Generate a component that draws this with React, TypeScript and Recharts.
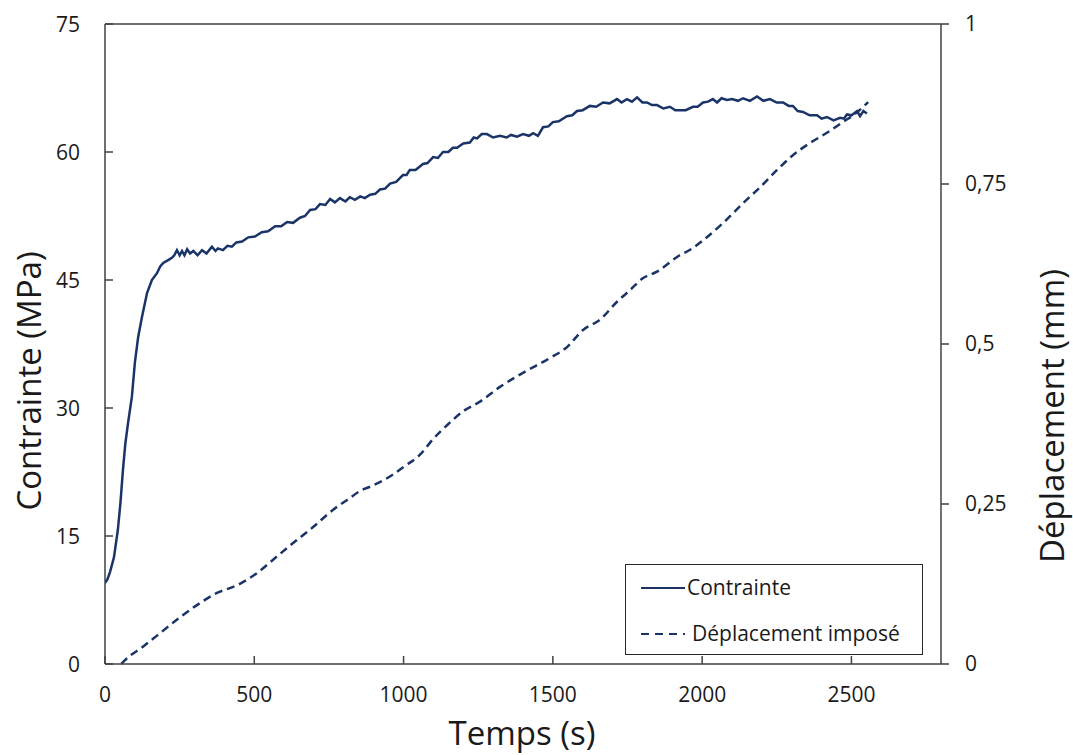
import { Label, Legend, Line, LineChart, ReferenceLine, XAxis, YAxis } from "recharts";

// Contrainte (MPa) vs temps (s)
const stressTime = [
  0, 8, 17, 30, 43, 52, 60, 68, 77, 90, 100, 111, 124, 141, 157, 174, 185, 195, 210, 224, 232, 241, 250, 258, 266,
  275, 285, 296, 310, 325, 340, 358, 370, 378, 395, 410, 425, 440, 459, 480, 502, 525, 546, 570, 590, 610, 630, 653,
  670, 687, 705, 720, 738, 754, 770, 787, 805, 820, 837, 855, 870, 888, 905, 921, 938, 955, 975, 998, 1010, 1021, 1040,
  1065, 1080, 1099, 1115, 1132, 1150, 1165, 1179, 1200, 1222, 1235, 1246, 1262, 1279, 1300, 1323, 1345, 1360, 1380,
  1400, 1420, 1434, 1450, 1467, 1485, 1500, 1520, 1547, 1565, 1581, 1600, 1624, 1645, 1668, 1690, 1715, 1730, 1748,
  1765, 1782, 1800, 1815, 1832, 1849, 1870, 1892, 1910, 1926, 1945, 1969, 1985, 2003, 2020, 2036, 2050, 2065, 2083,
  2100, 2120, 2137, 2160, 2184, 2205, 2227, 2250, 2271, 2290, 2304, 2320, 2338, 2360, 2385, 2400, 2418, 2440, 2462,
  2475, 2485, 2500, 2519, 2529, 2540, 2552,
];
const stressValues = [
  9.5, 9.9, 10.8, 12.5, 15.7, 19.0, 22.7, 25.8, 28.2, 31.3, 35.3, 38.3, 40.7, 43.5, 45.0, 45.8, 46.6, 47.0, 47.3, 47.6,
  47.9, 48.5, 47.9, 48.4, 47.9, 48.6, 48.1, 48.4, 47.9, 48.5, 48.1, 48.9, 48.4, 48.7, 48.5, 49.0, 48.9, 49.4, 49.5,
  50.0, 50.1, 50.6, 50.7, 51.3, 51.3, 51.8, 51.7, 52.3, 52.5, 53.2, 53.3, 53.9, 53.8, 54.5, 54.1, 54.6, 54.2, 54.7,
  54.4, 54.8, 54.6, 55.0, 55.1, 55.6, 55.7, 56.3, 56.5, 57.3, 57.3, 57.9, 57.9, 58.6, 58.7, 59.4, 59.3, 60.0, 60.0,
  60.5, 60.5, 61.0, 61.1, 61.7, 61.6, 62.1, 62.1, 61.7, 61.9, 61.7, 62.0, 61.8, 62.1, 61.9, 62.2, 61.9, 62.9, 63.0,
  63.5, 63.6, 64.2, 64.3, 64.8, 64.9, 65.4, 65.3, 65.8, 65.7, 66.2, 65.8, 66.2, 65.9, 66.4, 65.8, 65.8, 65.5, 65.5,
  65.1, 65.3, 64.9, 64.9, 64.9, 65.3, 65.3, 65.8, 65.9, 66.2, 65.8, 66.3, 66.1, 66.2, 66.0, 66.3, 66.0, 66.5, 66.0,
  66.2, 65.8, 65.8, 65.4, 65.4, 64.8, 64.7, 64.3, 64.3, 63.9, 64.1, 63.7, 64.0, 63.9, 64.4, 64.3, 64.8, 64.2, 64.8,
  64.5,
];

// Déplacement imposé (mm) vs temps (s)
const dispTime = [
  55, 67, 127, 184, 251, 308, 375, 442, 509, 563, 630, 697, 764, 810, 861, 888, 961, 1000, 1055, 1100, 1150, 1200,
  1256, 1323, 1400, 1490, 1547, 1601, 1658, 1715, 1758, 1802, 1849, 1916, 1969, 2003, 2070, 2137, 2194, 2251, 2304,
  2361, 2418, 2472, 2519, 2556,
];
const dispValues = [
  0.0, 0.006, 0.027, 0.048, 0.073, 0.092, 0.111, 0.123, 0.142, 0.163, 0.189, 0.214, 0.241, 0.256, 0.272, 0.277,
  0.295, 0.308, 0.327, 0.352, 0.375, 0.395, 0.41, 0.433, 0.455, 0.478, 0.495, 0.522, 0.538, 0.566, 0.584, 0.603, 0.613,
  0.636, 0.65, 0.662, 0.689, 0.72, 0.745, 0.772, 0.795, 0.814, 0.83, 0.847, 0.862, 0.878,
];

const timeTicks = [0, 500, 1000, 1500, 2000, 2500];
const stressTicks = [0, 15, 30, 45, 60, 75];
const dispTicks = [0, 0.25, 0.5, 0.75, 1];

const stressData = stressTime.map((t, i) => ({ t, v: stressValues[i] }));
const dispData = dispTime.map((t, i) => ({ t, v: dispValues[i] }));

const FONT = '"Open Sans", sans-serif';
const LINE = "#1b3468";
const AXIS = "#404040";
const TEXT = "#1a1a1a";

const LeftTick = (props: any) => {
  const { x, y, payload } = props;
  return (
    <g>
      <line x1={x + 25} x2={x + 33} y1={y} y2={y} stroke={AXIS} strokeWidth={1.5} />
      <text x={x} y={y} dy="0.36em" textAnchor="end" fill={TEXT} fontSize={21} fontFamily={FONT}>
        {payload.value}
      </text>
    </g>
  );
};

const BottomTick = (props: any) => {
  const { x, y, payload } = props;
  return (
    <g>
      <line x1={x} x2={x} y1={y - 23} y2={y - 31} stroke={AXIS} strokeWidth={1.5} />
      <text x={x} y={y} dy="0.72em" textAnchor="middle" fill={TEXT} fontSize={21} fontFamily={FONT}>
        {payload.value}
      </text>
    </g>
  );
};

const Title = ({ cx, cy, rotate, text }: { cx: number; cy: number; rotate?: boolean; text: string }) => (
  <text
    x={cx}
    y={cy}
    textAnchor="middle"
    fill={TEXT}
    fontSize={33}
    fontFamily={FONT}
    transform={rotate ? `rotate(-90, ${cx}, ${cy})` : undefined}
  >
    {text}
  </text>
);

const LegendBox = () => (
  <div
    style={{
      position: "relative",
      width: 298,
      height: 91,
      boxSizing: "border-box",
      border: "1.5px solid #262626",
      background: "#fff",
      fontFamily: FONT,
      fontSize: 21,
      color: TEXT,
    }}
  >
    <svg width={60} height={91} style={{ position: "absolute", left: 0, top: 0 }}>
      <line x1={15} x2={59} y1={23} y2={23} stroke={LINE} strokeWidth={2} />
      <line x1={15} x2={59} y1={69} y2={69} stroke={LINE} strokeWidth={2} strokeDasharray="8 6" />
    </svg>
    <span style={{ position: "absolute", left: 61, top: 8, lineHeight: "28px" }}>Contrainte</span>
    <span style={{ position: "absolute", left: 66, top: 54, lineHeight: "28px" }}>Déplacement imposé</span>
  </div>
);

export default function App() {
  return (
    <div style={{ position: "absolute", left: 0, top: 0, width: 1073, height: 755, background: "#fff" }}>
      <LineChart width={1073} height={755} margin={{ top: 24, right: 0, left: 0, bottom: 0 }}>
        <XAxis
          type="number"
          dataKey="t"
          domain={[0, 2800]}
          ticks={timeTicks}
          height={91}
          tickSize={0}
          tickMargin={23}
          tickLine={false}
          axisLine={{ stroke: AXIS, strokeWidth: 1.5 }}
          tick={<BottomTick />}
          allowDataOverflow
        >
          <Label content={() => <Title cx={522} cy={745} text="Temps (s)" />} />
        </XAxis>
        <YAxis
          yAxisId="left"
          type="number"
          domain={[0, 75]}
          ticks={stressTicks}
          width={105}
          tickSize={0}
          tickMargin={25}
          tickLine={false}
          axisLine={{ stroke: AXIS, strokeWidth: 1.5 }}
          tick={<LeftTick />}
        >
          <Label content={() => <Title cx={41} cy={381} rotate text="Contrainte (MPa)" />} />
        </YAxis>
        <YAxis
          yAxisId="right"
          orientation="right"
          type="number"
          domain={[0, 1]}
          ticks={dispTicks}
          width={132}
          tickSize={8}
          tickMargin={16}
          axisLine={{ stroke: AXIS, strokeWidth: 1.5 }}
          tickLine={{ stroke: AXIS, strokeWidth: 1.5 }}
          tick={{ fill: TEXT, fontSize: 21, fontFamily: FONT }}
          tickFormatter={(v: number) => String(v).replace(".", ",")}
        >
          <Label content={() => <Title cx={1064} cy={416} rotate text="Déplacement (mm)" />} />
        </YAxis>
        <ReferenceLine yAxisId="left" y={75} stroke={AXIS} strokeWidth={1.5} />
        <Line
          yAxisId="left"
          data={stressData}
          dataKey="v"
          type="linear"
          stroke={LINE}
          strokeWidth={2.5}
          dot={false}
          activeDot={false}
          isAnimationActive={false}
        />
        <Line
          yAxisId="right"
          data={dispData}
          dataKey="v"
          type="monotone"
          stroke={LINE}
          strokeWidth={2.5}
          strokeDasharray="8 5"
          dot={false}
          activeDot={false}
          isAnimationActive={false}
        />
        <Legend
          content={<LegendBox />}
          layout="horizontal"
          verticalAlign="middle"
          align="center"
          wrapperStyle={{ position: "absolute", left: 625, top: 564, width: 298, height: 91 }}
        />
      </LineChart>
    </div>
  );
}
